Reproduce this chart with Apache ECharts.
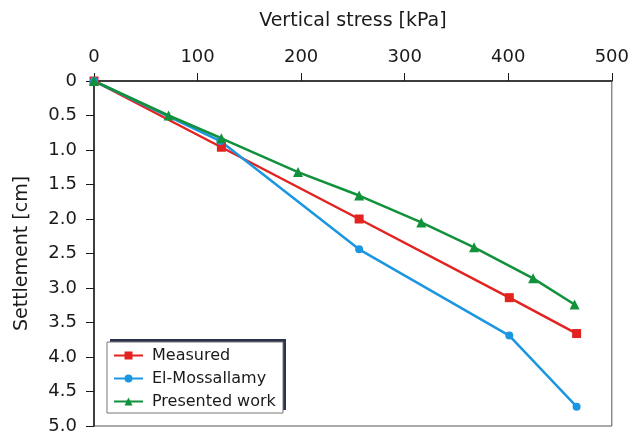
<!DOCTYPE html>
<html>
<head>
<meta charset="utf-8">
<script src="https://cdn.jsdelivr.net/npm/echarts@6/dist/echarts.min.js"></script>
<style>
  html, body { margin: 0; padding: 0; background: #fff; }
  #chart { width: 632px; height: 435px; }
</style>
</head>
<body>
<div id="chart"></div>
<script>
// Settlement under increasing vertical stress: [stress kPa, settlement cm]
const measured = [[0, 0], [123, 0.96], [256, 2.0], [401, 3.14], [466, 3.66]];
const elMossallamy = [[0, 0], [122, 0.87], [256, 2.44], [401, 3.69], [466, 4.72]];
const presentedWork = [[0, 0], [72, 0.5], [123, 0.83], [197, 1.32], [256, 1.66], [316, 2.05], [367, 2.41], [424, 2.86], [464, 3.24]];
const seriesNames = ['Measured', 'El-Mossallamy', 'Presented work'];
const xTicks = [0, 100, 200, 300, 400, 500];
const yTicks = [0, 0.5, 1.0, 1.5, 2.0, 2.5, 3.0, 3.5, 4.0, 4.5, 5.0];

const font = 'DejaVu Sans, Liberation Sans, sans-serif';
const ink = '#1a1a1a';
const chart = echarts.init(document.getElementById('chart'), null, { renderer: 'canvas' });

function line(name, data, color, symbol, size) {
  return {
    name, type: 'line', data, symbol, symbolSize: size,
    lineStyle: { color, width: 2.5 },
    itemStyle: { color },
    z: 3
  };
}

chart.setOption({
  animation: false,
  backgroundColor: '#fff',
  grid: {
    left: 94, top: 81, right: 19, bottom: 9,
    show: true, borderColor: '#555', borderWidth: 1
  },
  xAxis: {
    type: 'value', position: 'top',
    min: xTicks[0], max: xTicks[xTicks.length - 1], interval: 100,
    name: 'Vertical stress [kPa]', nameLocation: 'middle', nameGap: 50,
    nameTextStyle: { fontFamily: font, fontSize: 19, color: ink },
    axisLine: { show: true, lineStyle: { color: ink, width: 1.5 } },
    axisTick: { show: true, inside: false, length: 8, lineStyle: { color: ink } },
    axisLabel: { fontFamily: font, fontSize: 18, color: ink, margin: 15 },
    splitLine: { show: false }
  },
  yAxis: {
    type: 'value', inverse: true,
    min: yTicks[0], max: yTicks[yTicks.length - 1], interval: 0.5,
    name: 'Settlement [cm]', nameLocation: 'middle', nameGap: 62, nameRotate: 90,
    nameTextStyle: { fontFamily: font, fontSize: 19, color: ink },
    axisLine: { show: true, lineStyle: { color: ink, width: 1.5 } },
    axisTick: { show: true, inside: false, length: 8, lineStyle: { color: ink } },
    axisLabel: {
      fontFamily: font, fontSize: 18, color: ink, margin: 17,
      formatter: v => (v === 0 ? '0' : v.toFixed(1))
    },
    splitLine: { show: false }
  },
  // legend frame with its dark drop shadow
  graphic: [
    { type: 'rect', z: 0, shape: { x: 110, y: 339, width: 176, height: 71 },
      style: { fill: '#2b3350' } },
    { type: 'rect', z: 1, shape: { x: 107, y: 342, width: 176, height: 71 },
      style: { fill: '#fff', stroke: '#777', lineWidth: 1 } }
  ],
  legend: {
    data: seriesNames,
    orient: 'vertical', left: 113, top: 346,
    itemWidth: 29, itemHeight: 10, itemGap: 4,
    padding: 0,
    textStyle: { fontFamily: font, fontSize: 16, color: ink, lineHeight: 19, padding: [0, 0, 0, 4] }
  },
  series: [
    line(seriesNames[0], measured, '#e2231f', 'rect', 9),
    line(seriesNames[1], elMossallamy, '#1b96e0', 'circle', 8),
    line(seriesNames[2], presentedWork, '#12913c', 'triangle', 10)
  ]
});
</script>
</body>
</html>
